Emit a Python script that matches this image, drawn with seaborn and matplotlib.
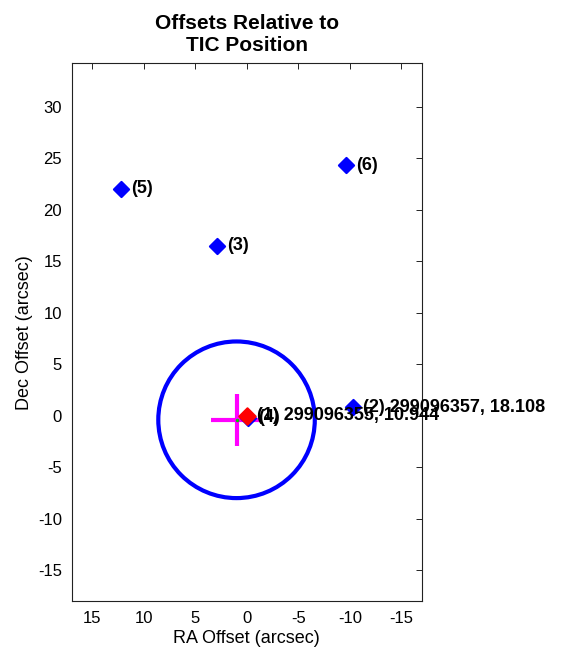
import matplotlib
matplotlib.use('Agg')
import matplotlib.pyplot as plt
import seaborn as sns
import pandas as pd
from matplotlib.patches import Circle

# Dados
star_ids = ['(2) 299096357, 18.108', '(3)', '(4)', '(5)', '(6)']
star_ra = [-10.3, 2.9, -0.1, 12.2, -9.6]
star_dec = [0.8, 16.5, -0.2, 22.0, 24.3]

target_label = '(1) 299096355, 10.944'
target_ra = [0.0]
target_dec = [0.0]

centroid_ra = 1.0
centroid_dec = -0.4
centroid_err_ra = 2.5
centroid_err_dec = 2.55
circle_radius = 7.6

x_ticks = [15, 10, 5, 0, -5, -10, -15]
y_ticks = [-15, -10, -5, 0, 5, 10, 15, 20, 25, 30]

sns.set_style('white')
plt.rcParams['font.family'] = ['Liberation Sans', 'DejaVu Sans']
plt.rcParams['axes.unicode_minus'] = False
plt.rcParams['text.color'] = 'black'
plt.rcParams['axes.labelcolor'] = 'black'
plt.rcParams['xtick.color'] = 'black'
plt.rcParams['ytick.color'] = 'black'

fig = plt.figure(figsize=(5.61, 6.52), dpi=100)
ax = fig.add_axes([0.128, 0.078, 0.624, 0.825])

stars = pd.DataFrame({'ra': star_ra, 'dec': star_dec, 'label': star_ids})

# Círculo de incerteza
ax.add_patch(Circle((centroid_ra, centroid_dec), circle_radius, fill=False,
                    edgecolor='#0000ff', linewidth=3, zorder=2))

# Centroide medido (cruz magenta)
ax.errorbar([centroid_ra], [centroid_dec], xerr=centroid_err_ra, yerr=centroid_err_dec,
            fmt='none', ecolor='#ff00ff', elinewidth=3, capsize=0, zorder=3)
ax.plot([centroid_ra], [centroid_dec], marker='.', color='#00cc00', markersize=3, zorder=4)

# Estrelas vizinhas
sns.scatterplot(data=stars, x='ra', y='dec', marker='D', s=60, color='#0000ff',
                edgecolor='#0000ff', linewidth=1.5, ax=ax, zorder=5, legend=False)
for _, row in stars.iterrows():
    ax.text(row['ra'] - 1.0, row['dec'], row['label'], fontsize=13, fontweight='bold',
            va='center', ha='left', zorder=6)

# Alvo
sns.scatterplot(x=target_ra, y=target_dec, marker='D', s=70, color='#ff0000',
                edgecolor='#ff0000', linewidth=1.5, ax=ax, zorder=7, legend=False)
ax.text(target_ra[0] - 1.0, target_dec[0], target_label, fontsize=13, fontweight='bold',
        va='center', ha='left', zorder=7)

ax.set_xlim(17, -17)
ax.set_ylim(-18, 34.2)
ax.set_xticks(x_ticks)
ax.set_yticks(y_ticks)
ax.tick_params(direction='in', top=True, right=True, length=4, width=0.6,
               labelsize=12, pad=7)
for s in ax.spines.values():
    s.set_linewidth(0.8)
    s.set_color('#222222')

ax.set_xlabel('RA Offset (arcsec)', fontsize=13, labelpad=3)
ax.set_ylabel('Dec Offset (arcsec)', fontsize=13)
ax.set_title('Offsets Relative to\nTIC Position', fontsize=15, fontweight='bold', pad=9)

plt.savefig('out.png', dpi=100)
